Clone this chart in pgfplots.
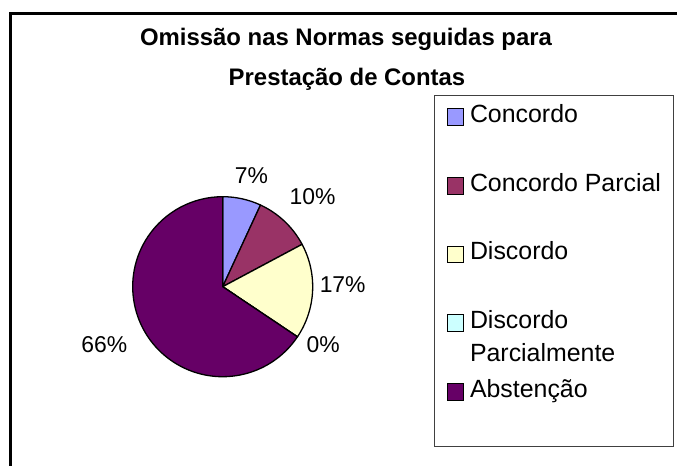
\documentclass[border=0pt]{standalone}
\usepackage{pgfplots}
\pgfplotsset{compat=1.18}
\usepackage{pgfplotstable}
\usepackage{fontspec}
\setmainfont{Liberation Sans}

\definecolor{cA}{HTML}{9999FF}
\definecolor{cB}{HTML}{993366}
\definecolor{cC}{HTML}{FFFFCC}
\definecolor{cD}{HTML}{CCFFFF}
\definecolor{cE}{HTML}{660066}

% share of answers (%), in the order of the legend;
% ld = distance of the label centre from the pie centre, la = small angle shift of the label
\pgfplotstableread{
pct   ld    la
6.9   115  -2.1
10.3  127  -1.6
17.2  120   3.9
0.0   116   3.8
65.6  132  -1.9
}\piedata

\def\cx{222.7}
\def\cy{179.3}
\def\R{90}
\gdef\sliceStart{90}

\newcommand\pieslice[2]{%
  \pgfplotstablegetelem{#1}{pct}\of\piedata
  \let\slicePct\pgfplotsretval
  \pgfplotstablegetelem{#1}{ld}\of\piedata
  \let\sliceLd\pgfplotsretval
  \pgfplotstablegetelem{#1}{la}\of\piedata
  \let\sliceLa\pgfplotsretval
  \pgfmathsetmacro\sliceEnd{\sliceStart-3.6*\slicePct}%
  \pgfmathsetmacro\sliceMid{(\sliceStart+\sliceEnd)/2+\sliceLa}%
  \pgfmathtruncatemacro\sliceLabel{round(\slicePct)}%
  \filldraw[fill=#2, draw=black, line width=1.3bp, line join=round]
    (axis cs:\cx,\cy) -- ([shift={(\sliceStart:\R bp)}]axis cs:\cx,\cy)
    arc[start angle=\sliceStart, end angle=\sliceEnd, radius=\R bp] -- cycle;
  \node[anchor=center, inner sep=0pt, font=\fontsize{23}{27}\selectfont]
    at ([shift={(\sliceMid:\sliceLd bp)}]axis cs:\cx,\cy) {\sliceLabel\%};
  \global\let\sliceStart\sliceEnd
}

\begin{document}
\begin{tikzpicture}
\begin{axis}[
  at={(0,0)}, anchor=south west,
  scale only axis, width=677bp, height=466bp,
  xmin=0, xmax=677, ymin=0, ymax=466,
  hide axis, clip=false,
  legend cell align=left,
  legend image code/.code={\draw[#1, draw=black, line width=0.8bp] (0bp,-3bp) rectangle (16.7bp,13.7bp);},
  legend style={
    at={(axis cs:434,371)}, anchor=north west,
    draw=black!75, line width=1bp, fill=white,
    inner xsep=12bp, inner ysep=9bp,
    font=\fontsize{25}{33.4}\selectfont,
    cells={anchor=base west},
    nodes={inner sep=0pt, text height=18bp, text depth=5bp},
    /tikz/every odd column/.append style={column sep=6bp},
    row sep=45.7bp,
  },
]
\addlegendimage{fill=cA}
\addlegendentry{Concordo}
\addlegendimage{fill=cB}
\addlegendentry{Concordo Parcial}
\addlegendimage{fill=cC}
\addlegendentry{Discordo}
\addlegendimage{fill=cD}
\addlegendentry{\begin{tabular}[t]{@{}l@{}}Discordo\\Parcialmente\end{tabular}}
\addlegendimage{fill=cE}
\addlegendentry[text depth=40.2bp]{Abstenção}

\pgfplotsextra{%
  \pieslice{0}{cA}%
  \pieslice{1}{cB}%
  \pieslice{2}{cC}%
  \pieslice{3}{cD}%
  \pieslice{4}{cE}%
}

\node[anchor=base, font=\bfseries\fontsize{24}{28}\selectfont] at (axis cs:346,420) {Omissão nas Normas seguidas para};
\node[anchor=base, font=\bfseries\fontsize{24}{28}\selectfont] at (axis cs:347,380.7) {Prestação de Contas};

\draw[line width=2.5bp] (axis cs:10.5,452.5) rectangle (axis cs:720,-40);
\end{axis}
\pgfresetboundingbox
\path[use as bounding box] (0,0) rectangle (677bp,466bp);
\end{tikzpicture}
\end{document}
